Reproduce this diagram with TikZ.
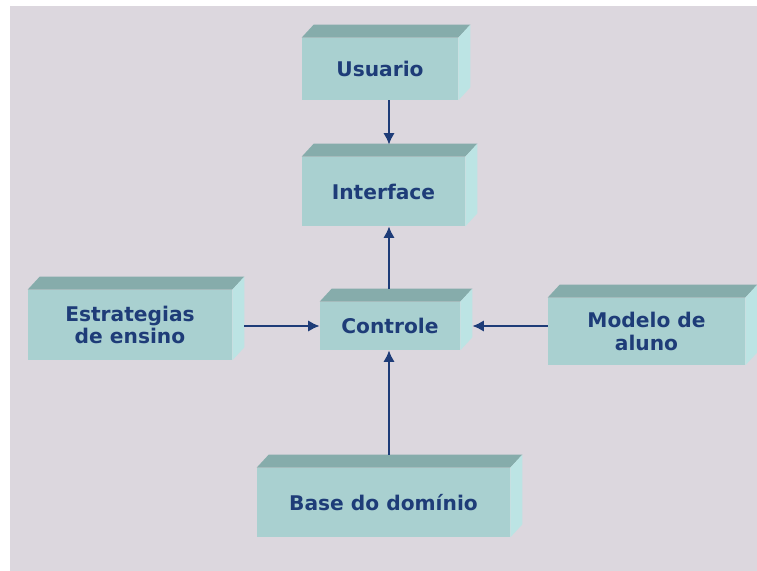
\documentclass[tikz,border=0pt]{standalone}
\usepackage{fontspec}
\setmainfont{DejaVu Sans}
\usetikzlibrary{arrows.meta}
\definecolor{bggray}{HTML}{DCD7DE}
\definecolor{tealfront}{HTML}{A9D0D0}
\definecolor{tealtop}{HTML}{86ACAB}
\definecolor{tealside}{HTML}{BCE4E4}
\definecolor{navy}{HTML}{1E3C78}
\tikzset{
  block/.style={
    rectangle,
    fill=tealfront,
    text=navy,
    inner sep=0pt,
    font=\bfseries\fontsize{11.5}{13}\selectfont,
    execute at begin node=\setlength{\baselineskip}{13pt}
  }
}
\tikzstyle{arrow} = [->, > = {Latex[length=6.5pt, width=6.5pt]}, draw=navy, line width=1.4pt]
\def\depthx{12}
\def\depthy{13}

\begin{document}
\begin{tikzpicture}[x=0.02cm, y=-0.02cm]
    \useasboundingbox (0,0) rectangle (757,571);
    \fill[bggray] (10,6) rectangle (757,571);
    \coordinate (spine) at (389,0);
    \node[block, align=center, minimum width=3.12cm, minimum height=1.24cm] (usuario) at (380, 69) {Usuario};
    \node[block, align=center, minimum width=3.26cm, minimum height=1.38cm] (interface) at (383.5, 191.5) {Interface};
    \node[block, align=center, minimum width=2.8cm, minimum height=0.96cm] (controle) at (390, 326) {Controle};
    \node[block, align=center, minimum width=4.08cm, minimum height=1.4cm] (estrategias) at (130, 325) {Estrategias\\de ensino};
    \node[block, align=center, minimum width=3.94cm, minimum height=1.34cm] (modelo) at (646.5, 331.5) {Modelo de\\aluno};
    \node[block, align=center, minimum width=5.06cm, minimum height=1.38cm] (base) at (383.5, 502.5) {Base do domínio};
    % top and side faces
    \foreach \n in {usuario,interface,controle,estrategias,modelo,base} {
      \fill[tealtop] (\n.north west) -- ++(\depthx,-\depthy) -- ([shift={(\depthx,-\depthy)}]\n.north east) -- (\n.north east) -- cycle;
      \fill[tealside] (\n.north east) -- ++(\depthx,-\depthy) -- ([shift={(\depthx,-\depthy)}]\n.south east) -- (\n.south east) -- cycle;
    }
    \draw[arrow, shorten >=0.24cm] (usuario.south -| spine) -- (interface.north -| spine);
    \draw[arrow, shorten <=0.26cm] (controle.north -| spine) -- (interface.south -| spine);
    \draw[arrow, shorten <=0.24cm] (estrategias.east |- controle) -- (controle.west);
    \draw[arrow, shorten >=0.24cm] (modelo.west |- controle) -- (controle.east);
    \draw[arrow, shorten <=0.26cm] (base.north -| spine) -- (controle.south -| spine);
\end{tikzpicture}
\end{document}
